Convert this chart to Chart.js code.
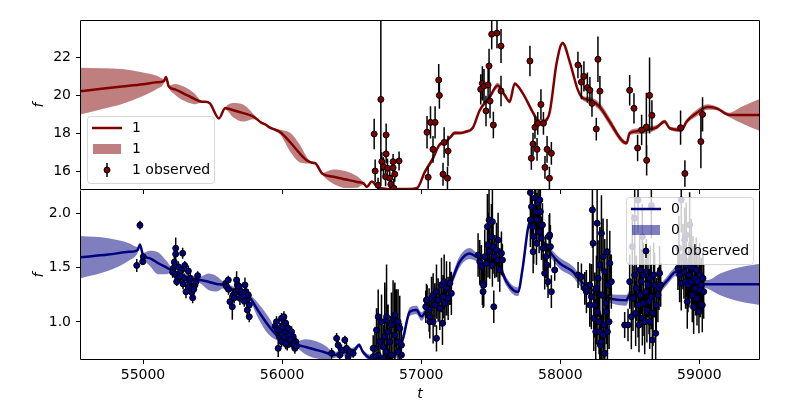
<!DOCTYPE html>
<html>
<head>
<meta charset="utf-8">
<script src="https://cdn.jsdelivr.net/npm/chart.js@4.4.0/dist/chart.umd.min.js"></script>
<style>
  html, body { margin: 0; padding: 0; background: #fff; overflow: hidden; }
  #wrap { position: relative; width: 800px; height: 400px; overflow: hidden; }
  #topBox { position: absolute; left: 0; top: 0; width: 800px; height: 190px; }
  #botBox { position: absolute; left: 0; top: 190px; width: 800px; height: 213px; }
</style>
</head>
<body>
<div id="wrap">
  <div id="topBox"><canvas id="chartTop" width="800" height="190"></canvas></div>
  <div id="botBox"><canvas id="chartBottom" width="800" height="213"></canvas></div>
</div>
<script>
// axes
const tRange = [54547, 59436];
const xTicks = [55000, 56000, 57000, 58000, 59000];
const yRangeTop = [15.0, 23.95];
const yTicksTop = [16, 18, 20, 22];
const yRangeBottom = [0.65, 2.214];
const yTicksBottom = [1.0, 1.5, 2.0];

// band "1" : [t, mean, sigma]
const fitRed = [
  [54547,20.2,1.23],[54700,20.33,1.08],[54850,20.45,0.92],[55000,20.57,0.62],[55100,20.67,0.35],
  [55150,20.73,0.12],[55165,20.95,0.03],[55185,20.45,0.05],[55230,20.3,0.28],[55300,20.05,0.37],
  [55370,19.8,0.28],[55420,19.65,0.06],[55445,19.65,0.04],[55481,19.56,0.04],[55546,18.77,0.04],
  [55590,19.3,0.06],[55650,19.2,0.38],[55720,19.05,0.45],[55790,18.88,0.15],[55820,18.72,0.05],
  [55850,18.55,0.05],[55880,18.45,0.05],[55910,18.3,0.05],[55940,18.2,0.05],[55985,18.05,0.12],
  [56060,17.5,0.5],[56130,16.9,0.45],[56180,16.55,0.15],[56210,16.45,0.05],[56240,16.4,0.05],
  [56290,15.85,0.06],[56370,15.7,0.38],[56460,15.55,0.44],[56540,15.42,0.3],[56585,15.35,0.06],
  [56610,15.16,0.04],[56645,15.45,0.04],[56680,15.2,0.05],[56720,15.08,0.05],[56800,15.05,0.05],
  [56900,15.05,0.06],[56970,15.1,0.08],[57026,15.95,0.12],[57080,16.6,0.15],[57134,17.4,0.12],
  [57170,17.5,0.1],[57205,17.74,0.1],[57241,18.0,0.1],[57280,18.0,0.08],[57313,18.05,0.08],
  [57370,18.26,0.08],[57421,19.2,0.1],[57493,19.9,0.12],[57550,20.5,0.15],[57600,20.0,0.12],
  [57636,19.65,0.1],[57672,20.6,0.08],[57730,20.1,0.08],[57802,19.1,0.12],[57852,18.55,0.18],
  [57888,18.6,0.15],[57924,19.1,0.08],[57974,21.7,0.08],[58017,22.74,0.08],[58068,21.75,0.08],
  [58125,20.3,0.08],[58161,19.84,0.12],[58211,19.74,0.15],[58283,19.38,0.2],[58355,18.6,0.22],
  [58441,17.63,0.15],[58477,17.47,0.1],[58499,18.0,0.12],[58560,18.1,0.15],[58621,18.16,0.18],
  [58693,18.3,0.12],[58750,18.6,0.1],[58786,18.26,0.08],[58872,18.16,0.12],[58908,18.6,0.12],
  [58980,19.05,0.18],[59059,19.37,0.15],[59124,19.3,0.1],[59217,18.95,0.12],[59300,18.95,0.42],
  [59436,18.95,0.85]
];

// "1 observed" : [t, f, err]
const obsRed = [
  [56662,17.95,0.8],[56669,16.0,0.6],[56690,15.25,0.4],[56710,19.77,4.5],[56748,17.9,0.6],
  [56748,16.9,0.5],[56717,16.49,0.5],[56729,16.23,0.5],[56758,16.14,0.5],[56744,15.7,0.5],
  [56774,15.62,0.5],[56798,16.17,0.4],[56798,16.49,0.4],[56810,15.83,0.4],[56841,16.53,0.5],
  [56782,15.3,0.5],[56803,15.09,0.5],
  [57042,18.04,0.85],[57067,18.56,0.85],[57100,18.56,0.85],[57126,20.79,0.85],[57131,19.98,0.7],
  [57085,17.14,0.7],[57165,17.5,0.8],[57193,17.05,0.8],[57050,15.67,0.6],[57157,15.83,0.6],
  [57189,15.62,0.6],
  [57428,20.3,0.8],[57440,20.61,0.9],[57452,20.47,0.9],[57481,20.53,0.9],[57488,21.53,0.9],
  [57495,19.68,0.9],[57466,19.16,0.8],[57519,18.42,0.7],[57574,20.21,0.8],[57507,23.2,0.8],
  [57545,23.26,0.8],[57574,22.58,0.9],
  [57782,21.79,0.8],[57861,19.5,0.8],[57818,18.3,0.6],[57838,18.51,0.6],[57879,18.51,0.6],
  [57804,17.42,0.6],[57833,17.14,0.6],[57792,16.67,0.6],[57905,17.14,0.7],[57936,16.93,0.6],
  [57890,16.19,0.6],[57922,15.62,0.6],
  [58127,21.58,0.7],[58152,20.68,0.9],[58170,20.98,0.8],[58195,20.39,0.8],[58213,20.25,0.7],
  [58228,19.56,0.7],[58271,21.88,1.2],[58285,20.2,0.8],[58259,18.21,0.6],
  [58499,20.25,0.8],[58530,19.3,0.8],[58556,17.21,0.7],[58585,18.16,0.8],[58619,18.32,1.8],
  [58621,16.56,0.8],[58642,19.98,2.0],[58659,18.93,0.8],
  [58865,18.28,0.9],[58896,15.87,0.7],[59011,17.55,1.4],[59023,18.98,0.9]
];

// band "0" : [t, mean, sigma]
const fitBlue = [
  [54547,1.595,0.195],[54750,1.62,0.15],[54900,1.645,0.08],[54960,1.66,0.03],[54978,1.71,0.02],
  [55000,1.616,0.02],[55050,1.585,0.07],[55110,1.54,0.1],[55170,1.5,0.06],[55200,1.48,0.03],
  [55300,1.42,0.03],[55410,1.386,0.03],[55470,1.37,0.075],[55530,1.35,0.07],[55577,1.34,0.03],
  [55640,1.3,0.03],[55769,1.22,0.03],[55830,1.1,0.07],[55900,0.97,0.08],[55984,0.85,0.03],
  [56105,0.79,0.03],[56170,0.77,0.07],[56240,0.745,0.08],[56320,0.715,0.06],[56367,0.695,0.03],
  [56450,0.72,0.03],[56520,0.74,0.03],[56554,0.787,0.02],[56580,0.726,0.02],[56643,0.665,0.03],
  [56750,0.66,0.03],[56830,0.72,0.04],[56870,0.85,0.04],[56918,1.094,0.04],[56966,1.11,0.04],
  [57002,1.05,0.04],[57040,1.11,0.04],[57110,1.186,0.04],[57206,1.34,0.045],[57277,1.554,0.05],
  [57349,1.63,0.05],[57397,1.6,0.04],[57500,1.57,0.04],[57560,1.52,0.04],[57613,1.37,0.04],
  [57665,1.29,0.04],[57696,1.278,0.04],[57730,1.5,0.04],[57768,1.862,0.03],[57792,1.954,0.03],
  [57850,1.8,0.03],[57924,1.647,0.04],[57996,1.54,0.05],[58091,1.462,0.05],[58139,1.386,0.05],
  [58211,1.31,0.04],[58355,1.217,0.04],[58475,1.2,0.05],[58499,1.248,0.04],[58571,1.232,0.04],
  [58690,1.278,0.04],[58762,1.37,0.04],[58834,1.462,0.04],[58900,1.44,0.03],[59001,1.356,0.03],
  [59060,1.346,0.04],[59150,1.346,0.1],[59300,1.346,0.16],[59436,1.346,0.19]
];

// "0 observed" : [t, f, err]
const obsBlue = [
  [54955,1.52,0.06],[54978,1.89,0.04],[54998,1.555,0.03],[55002,1.6,0.03],
  [55235,1.678,0.1],[55235,1.625,0.06],[55285,1.632,0.05],[55218,1.494,0.04],[55254,1.508,0.05],
  [55278,1.478,0.04],[55230,1.438,0.04],[55254,1.401,0.05],[55295,1.401,0.04],[55326,1.469,0.05],
  [55333,1.37,0.06],[55309,1.278,0.06],[55350,1.272,0.08],[55357,1.223,0.05],[55374,1.34,0.05],
  [55393,1.426,0.04],[55381,1.37,0.05],[55213,1.457,0.05],[55242,1.37,0.04],[55326,1.32,0.05],
  [55300,1.52,0.04],[55265,1.45,0.04],[55225,1.55,0.05],[55270,1.42,0.05],[55288,1.35,0.05],
  [55340,1.4,0.05],[55365,1.3,0.05],
  [55594,1.355,0.04],[55601,1.325,0.05],[55613,1.386,0.04],[55625,1.187,0.06],[55642,1.14,0.12],
  [55649,1.248,0.06],[55661,1.263,0.05],[55673,1.386,0.08],[55678,1.34,0.05],[55685,1.294,0.05],
  [55697,1.217,0.06],[55733,1.34,0.07],[55740,1.279,0.05],[55745,1.202,0.06],[55757,1.248,0.05],
  [55764,1.156,0.06],[55764,1.048,0.05],[55750,1.11,0.06],[55721,1.233,0.05],[55709,1.279,0.06],
  [55615,1.3,0.05],[55655,1.22,0.05],[55690,1.33,0.05],[55728,1.19,0.05],
  [55960,1.002,0.05],[55972,0.757,0.08],[55984,0.941,0.05],[55996,1.033,0.05],[56008,0.972,0.04],
  [56020,0.91,0.05],[56032,0.849,0.05],[56044,0.941,0.05],[56056,0.818,0.05],[56068,0.91,0.05],
  [56080,0.864,0.04],[56092,0.757,0.05],[56099,0.818,0.04],[56013,1.048,0.05],[55980,0.864,0.05],
  [56037,0.787,0.05],[56075,0.794,0.05],[55996,0.818,0.05],[55950,0.96,0.05],[55965,0.93,0.05],
  [55990,0.9,0.04],[56000,0.88,0.05],[56004,0.95,0.04],[56017,0.86,0.05],[56025,0.99,0.05],
  [56050,0.88,0.05],[56062,0.84,0.04],[56086,0.8,0.05],[56105,0.78,0.04],[56025,0.8,0.05],
  [56356,0.711,0.05],[56392,0.849,0.05],[56403,0.787,0.04],[56427,0.742,0.05],[56451,0.834,0.04],
  [56463,0.757,0.05],[56487,0.726,0.04],[56511,0.711,0.04],[56415,0.696,0.05],[56475,0.68,0.05],
  [56667,0.757,0.15],[56679,0.926,0.2],[56703,0.818,0.18],[56715,1.002,0.25],[56727,0.772,0.2],
  [56738,0.864,0.5],[56750,1.017,0.3],[56762,0.91,0.25],[56774,0.818,0.2],[56786,0.972,0.3],
  [56798,1.033,0.35],[56810,0.88,0.25],[56822,1.002,0.3],[56834,0.818,0.25],[56846,0.941,0.3],
  [56858,0.787,0.2],[56858,0.696,0.2],[56834,0.726,0.2],[56691,0.696,0.15],[56750,0.726,0.2],
  [56786,0.696,0.2],[56655,0.68,0.1],[56727,0.665,0.15],[56810,1.048,0.3],[56691,1.048,0.25],
  [56751,1.048,0.48],[56811,1.064,0.3],[56834,1.002,0.3],[56655,0.757,0.12],[56703,0.818,0.15],
  [57033,1.14,0.15],[57043,1.187,0.15],[57057,1.11,0.2],[57062,1.048,0.2],[57074,1.217,0.2],
  [57086,1.248,0.2],[57098,1.156,0.2],[57110,1.279,0.25],[57122,1.202,0.2],[57134,1.125,0.2],
  [57146,1.34,0.25],[57153,0.987,0.2],[57158,1.233,0.2],[57170,1.171,0.2],[57182,1.309,0.25],
  [57194,1.217,0.2],[57206,1.355,0.2],[57217,1.263,0.2],[57062,1.002,0.15],[57110,0.849,0.12],
  [57038,1.202,0.15],[57165,1.371,0.25],[57086,1.002,0.2],
  [57409,1.616,0.2],[57421,1.555,0.2],[57433,1.509,0.2],[57440,1.355,0.2],[57445,1.279,0.15],
  [57457,1.601,0.25],[57469,1.54,0.2],[57476,1.877,0.3],[57488,1.939,0.3],[57493,1.647,0.25],
  [57505,1.785,0.3],[57512,1.524,0.2],[57517,1.693,0.25],[57522,1.14,0.15],[57529,1.601,0.2],
  [57541,1.662,0.25],[57553,1.57,0.2],[57565,1.478,0.2],[57577,1.632,0.2],[57584,1.57,0.15],
  [57553,1.754,0.25],[57512,1.923,0.35],[57481,1.708,0.3],[57450,1.34,0.2],
  [57785,2.19,0.25],[57785,1.939,0.25],[57793,2.06,0.25],[57800,1.877,0.25],[57805,1.647,0.2],
  [57809,1.785,0.25],[57817,2.14,0.25],[57824,2.015,0.25],[57829,1.724,0.2],[57833,1.939,0.25],
  [57841,2.092,0.25],[57848,1.831,0.2],[57853,2.123,0.25],[57857,2.015,0.25],[57865,1.77,0.2],
  [57872,1.893,0.2],[57877,1.678,0.2],[57888,1.448,0.15],[57896,1.601,0.2],[57905,1.524,0.2],
  [57912,1.371,0.15],[57920,1.785,0.2],[57924,1.8,0.2],[57929,1.693,0.2],[57936,1.279,0.15],
  [57960,1.478,0.1],
  [58128,1.432,0.12],[58152,1.417,0.12],[58176,1.309,0.15],[58188,1.279,0.2],[58212,1.34,0.2],
  [58224,1.233,0.3],[58231,2.031,0.35],[58241,1.033,0.3],[58248,1.156,0.3],[58255,0.91,0.3],
  [58265,1.908,0.35],[58272,1.401,0.35],[58279,1.002,0.3],[58284,1.524,0.35],[58288,0.788,0.3],
  [58296,1.816,0.35],[58303,1.248,0.3],[58308,1.601,0.35],[58315,0.972,0.3],[58320,1.463,0.3],
  [58327,1.171,0.3],[58332,1.095,0.3],[58336,1.647,0.3],[58344,1.34,0.3],[58351,1.002,0.25],
  [58356,1.54,0.3],[58212,1.156,0.2],[58236,1.724,0.35],[58260,1.309,0.3],[58296,0.818,0.25],
  [58320,0.711,0.2],[58284,0.91,0.3],[58265,1.095,0.3],[58308,0.88,0.25],[58339,0.91,0.25],
  [58367,1.371,0.25],
  [58463,0.972,0.12],[58487,0.972,0.15],[58499,1.371,0.25],[58511,1.048,0.3],[58523,1.217,0.3],
  [58535,1.432,0.3],[58542,1.079,0.3],[58547,1.309,0.3],[58559,1.156,0.3],[58566,0.972,0.25],
  [58571,1.478,0.3],[58575,1.248,0.3],[58583,1.371,0.3],[58590,1.033,0.25],[58595,1.171,0.3],
  [58599,1.432,0.3],[58607,1.002,0.3],[58614,1.279,0.3],[58619,1.463,0.3],[58623,1.11,0.3],
  [58631,1.34,0.3],[58638,1.187,0.3],[58643,1.002,0.25],[58647,1.401,0.3],[58655,1.233,0.3],
  [58662,0.834,0.25],[58667,1.079,0.3],[58671,1.432,0.3],[58678,1.34,0.3],[58686,0.895,0.25],
  [58690,1.156,0.25],[58702,1.248,0.25],[58710,1.309,0.2],[58714,1.448,0.25],[58722,1.34,0.2],
  [58559,2.12,0.3],[58655,2.07,0.3],[58518,1.693,0.3],[58590,1.785,0.3],[58535,1.954,0.3],
  [58846,1.494,0.2],[58858,1.432,0.25],[58870,2.123,0.3],[58870,1.355,0.25],[58882,1.601,0.3],
  [58889,1.463,0.25],[58894,1.754,0.3],[58901,1.371,0.25],[58906,1.524,0.3],[58913,1.187,0.25],
  [58918,1.34,0.25],[58925,1.432,0.3],[58930,1.893,0.3],[58935,1.509,0.3],[58942,1.371,0.25],
  [58949,1.248,0.25],[58954,1.494,0.3],[58959,1.14,0.25],[58966,1.401,0.3],[58973,1.309,0.25],
  [58978,1.478,0.3],[58983,1.217,0.25],[58990,1.371,0.3],[58997,1.095,0.2],[59002,1.432,0.3],
  [59007,1.294,0.25],[59014,1.34,0.25],[59021,1.156,0.25],[59026,1.401,0.25],[59031,1.279,0.25],
  [58906,1.8,0.3],[58942,1.647,0.3],[58853,1.678,0.3]
];

const RED = '#800000', RED_BAND = 'rgba(128,0,0,0.5)';
const BLUE = '#000080', BLUE_BAND = 'rgba(0,0,128,0.5)';
const FONT = "'DejaVu Sans', sans-serif";
const MARK_R = 3, MARK_EDGE = 1;

Chart.defaults.font.family = FONT;
Chart.defaults.font.size = 14;
Chart.defaults.color = '#000';

function makeDatasets(fit, obs, color, band) {
  const mean = fit.map(p => ({x: p[0], y: p[1]}));
  const upper = fit.map(p => ({x: p[0], y: p[1] + p[2]}));
  const lower = fit.map(p => ({x: p[0], y: p[1] - p[2]}));
  const bars = [];
  obs.forEach(p => {
    bars.push({x: p[0], y: p[1] - p[2]}, {x: p[0], y: p[1] + p[2]}, {x: p[0], y: null});
  });
  const pts = obs.map(p => ({x: p[0], y: p[1]}));
  return [
    {data: pts, showLine: false, pointRadius: MARK_R, pointHoverRadius: MARK_R,
     pointBackgroundColor: color, pointBorderColor: '#000', pointBorderWidth: MARK_EDGE, clip: 0},
    {data: bars, borderColor: '#000', borderWidth: 1.5, pointRadius: 0, spanGaps: false, clip: 0},
    {data: mean, borderColor: color, borderWidth: 2.5, pointRadius: 0,
     cubicInterpolationMode: 'monotone', clip: 0},
    {data: upper, borderWidth: 0, borderColor: 'rgba(0,0,0,0)', backgroundColor: band,
     fill: '+1', pointRadius: 0, cubicInterpolationMode: 'monotone', clip: 0},
    {data: lower, borderWidth: 0, borderColor: 'rgba(0,0,0,0)', fill: false,
     pointRadius: 0, cubicInterpolationMode: 'monotone', clip: 0}
  ];
}

function yAxis(range, ticks, fmt) {
  return {
    type: 'linear', position: 'left', min: range[0], max: range[1],
    afterBuildTicks: s => { s.ticks = ticks.map(v => ({value: v})); },
    afterFit: s => { s.width = 52; s.paddingTop = 0; s.paddingBottom = 0; },
    ticks: {color: '#000', padding: 5, callback: fmt},
    grid: {drawOnChartArea: false, drawTicks: true, tickLength: 4, color: '#000'},
    border: {display: false},
    title: {display: true, text: 'f', color: '#000', padding: {top: 3, bottom: 0},
            font: {family: FONT, size: 14, style: 'italic'}}
  };
}

// box around each panel
function framePlugin(withTop) {
  return {
    id: 'frame',
    afterDatasetsDraw(chart) {
      const a = chart.chartArea, ctx = chart.ctx;
      const l = Math.round(a.left) + 0.5, r = Math.round(a.right) - 0.5;
      const t = Math.round(a.top) + 0.5, b = Math.round(a.bottom) - 0.5;
      ctx.save();
      ctx.strokeStyle = '#000';
      ctx.lineWidth = 1;
      ctx.beginPath();
      if (withTop) { ctx.moveTo(l, t); ctx.lineTo(r, t); }
      ctx.moveTo(r, t); ctx.lineTo(r, b); ctx.lineTo(l, b); ctx.lineTo(l, t);
      ctx.stroke();
      ctx.restore();
    }
  };
}

// ticks of the upper panel hang into the lower one
const hangingTicks = {
  id: 'hangingTicks',
  afterDraw(chart) {
    const xs = chart.scales.x, a = chart.chartArea, ctx = chart.ctx;
    ctx.save();
    ctx.strokeStyle = '#000';
    ctx.lineWidth = 1;
    xTicks.forEach(v => {
      const px = Math.round(xs.getPixelForValue(v)) + 0.5;
      ctx.beginPath();
      ctx.moveTo(px, a.top);
      ctx.lineTo(px, a.top + 4);
      ctx.stroke();
    });
    ctx.restore();
  }
};

function legendPlugin(label, color, band, corner) {
  return {
    id: 'panelLegend',
    afterDraw(chart) {
      const a = chart.chartArea, ctx = chart.ctx;
      const w = 127, h = 67;
      const bx = corner === 'lowerLeft' ? a.left + 7 : a.right - 7 - w;
      const by = corner === 'lowerLeft' ? a.bottom - 7 - h : a.top + 7;
      ctx.save();
      ctx.beginPath();
      ctx.roundRect(Math.round(bx) + 0.5, Math.round(by) + 0.5, w, h, 3);
      ctx.fillStyle = 'rgba(255,255,255,0.8)';
      ctx.fill();
      ctx.strokeStyle = 'rgba(204,204,204,0.8)';
      ctx.lineWidth = 1;
      ctx.stroke();

      const rows = [by + 12, by + 33, by + 54];
      ctx.strokeStyle = color;
      ctx.lineWidth = 2.5;
      ctx.beginPath();
      ctx.moveTo(bx + 5, rows[0]);
      ctx.lineTo(bx + 35, rows[0]);
      ctx.stroke();

      ctx.fillStyle = band;
      ctx.fillRect(bx + 6, rows[1] - 5, 28, 10);

      ctx.strokeStyle = '#000';
      ctx.lineWidth = 1.5;
      ctx.beginPath();
      ctx.moveTo(bx + 20, rows[2] - 7);
      ctx.lineTo(bx + 20, rows[2] + 7);
      ctx.stroke();
      ctx.beginPath();
      ctx.arc(bx + 20, rows[2], MARK_R, 0, Math.PI * 2);
      ctx.fillStyle = color;
      ctx.fill();
      ctx.lineWidth = MARK_EDGE;
      ctx.stroke();

      ctx.fillStyle = '#000';
      ctx.font = '14px ' + FONT;
      ctx.textBaseline = 'middle';
      ctx.fillText(label, bx + 45, rows[0]);
      ctx.fillText(label, bx + 45, rows[1]);
      ctx.fillText(label + ' observed', bx + 45, rows[2]);
      ctx.restore();
    }
  };
}

new Chart(document.getElementById('chartTop'), {
  type: 'line',
  data: {datasets: makeDatasets(fitRed, obsRed, RED, RED_BAND)},
  options: {
    responsive: false,
    animation: false,
    events: [],
    layout: {autoPadding: false, padding: {left: 28, right: 40, top: 20, bottom: 0}},
    plugins: {legend: {display: false}, tooltip: {enabled: false}},
    scales: {
      x: {type: 'linear', min: tRange[0], max: tRange[1], display: false},
      y: yAxis(yRangeTop, yTicksTop, v => String(v))
    }
  },
  plugins: [framePlugin(true), legendPlugin('1', RED, RED_BAND, 'lowerLeft')]
});

new Chart(document.getElementById('chartBottom'), {
  type: 'line',
  data: {datasets: makeDatasets(fitBlue, obsBlue, BLUE, BLUE_BAND)},
  options: {
    responsive: false,
    animation: false,
    events: [],
    layout: {autoPadding: false, padding: {left: 28, right: 40, top: 0, bottom: 0}},
    plugins: {legend: {display: false}, tooltip: {enabled: false}},
    scales: {
      x: {
        type: 'linear', min: tRange[0], max: tRange[1],
        afterBuildTicks: s => { s.ticks = xTicks.map(v => ({value: v})); },
        afterFit: s => { s.height = 43; s.paddingLeft = 0; s.paddingRight = 0; },
        ticks: {color: '#000', padding: 3, maxRotation: 0, autoSkip: false, callback: v => String(v)},
        grid: {drawOnChartArea: false, drawTicks: true, tickLength: 4, color: '#000'},
        border: {display: false},
        title: {display: true, text: 't', color: '#000', padding: {top: 0, bottom: 0},
                font: {family: FONT, size: 14, style: 'italic'}}
      },
      y: yAxis(yRangeBottom, yTicksBottom, v => v.toFixed(1))
    }
  },
  plugins: [framePlugin(false), hangingTicks, legendPlugin('0', BLUE, BLUE_BAND, 'upperRight')]
});
</script>
</body>
</html>
